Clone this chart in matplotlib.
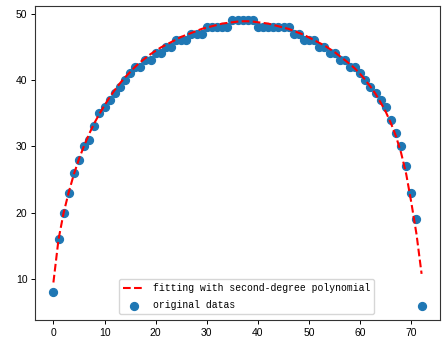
import numpy as np
import matplotlib
matplotlib.use('Agg')
import matplotlib.pyplot as plt

# original measurements, one per x step
x_vals = list(range(73))
y_vals = [8, 16, 20, 23, 26, 28, 30, 31, 33, 35,
          36, 37, 38, 39, 40, 41, 42, 42, 43, 43,
          44, 44, 45, 45, 46, 46, 46, 47, 47, 47,
          48, 48, 48, 48, 48, 49, 49, 49, 49, 49,
          48, 48, 48, 48, 48, 48, 48, 47, 47, 46,
          46, 46, 45, 45, 44, 44, 43, 43, 42, 42,
          41, 40, 39, 38, 37, 36, 34, 32, 30, 27,
          23, 19, 6]
# fitted curve at the same x steps
fit_vals = [9.5, 16.0, 20.0, 23.1, 25.8, 28.1, 30.1, 31.9, 33.5, 34.9,
            36.2, 37.4, 38.5, 39.5, 40.4, 41.2, 42.0, 42.7, 43.3, 43.9,
            44.4, 44.9, 45.3, 45.7, 46.1, 46.5, 46.8, 47.1, 47.4, 47.7,
            47.9, 48.1, 48.3, 48.5, 48.6, 48.7, 48.8, 48.85, 48.85, 48.8,
            48.7, 48.6, 48.5, 48.3, 48.1, 47.9, 47.7, 47.4, 47.1, 46.8,
            46.4, 46.0, 45.6, 45.2, 44.7, 44.2, 43.6, 43.0, 42.4, 41.7,
            40.9, 40.0, 39.0, 37.9, 36.6, 35.2, 33.5, 31.5, 29.0, 25.8,
            21.5, 16.8, 10.8]
fit_label = 'fitting with second-degree polynomial'
data_label = 'original datas'

x = np.array(x_vals, dtype=float)
y = np.array(y_vals, dtype=float)
y_fit = np.array(fit_vals)

fig = plt.figure(figsize=(4.46, 3.42), dpi=100)
ax = fig.add_axes([35 / 446, 1 - 320 / 342, 405 / 446, 314 / 342])

## dashed fit drawn over the dots
ax.plot(x, y_fit, 'r--', lw=1.5, label=fit_label, zorder=3)
ax.scatter(x, y, s=32, color='#1f77b4', label=data_label, zorder=2)

ax.tick_params(labelsize=7.5, length=3, width=0.7, pad=2.5)
for lab in ax.get_xticklabels() + ax.get_yticklabels():
    lab.set_fontfamily('Liberation Sans')
for sp in ax.spines.values():
    sp.set_linewidth(0.8)
    sp.set_color('#333333')

ax.legend(loc='lower center', bbox_to_anchor=(0.522, 0.0),
          prop={'family': 'Liberation Mono', 'size': 7},
          labelspacing=0.75, borderaxespad=0.6, handlelength=2.3)

fig.savefig('out.png', dpi=100)
